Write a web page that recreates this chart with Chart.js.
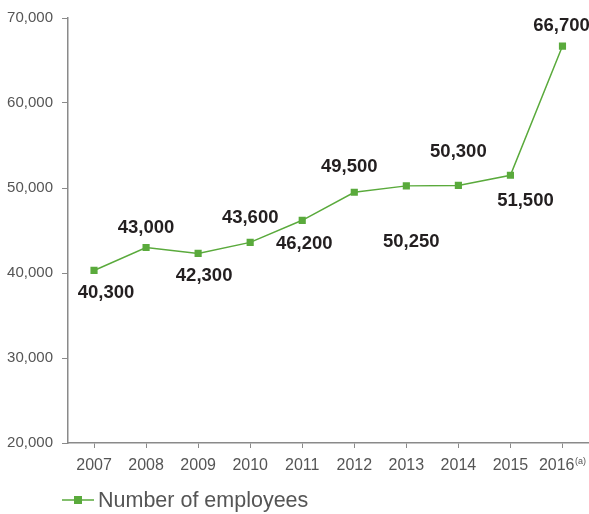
<!DOCTYPE html>
<html>
<head>
<meta charset="utf-8">
<script src="https://cdn.jsdelivr.net/npm/chart.js@4"></script>
<style>
html,body{margin:0;padding:0;background:#fff;overflow:hidden;}
#wrap{width:594px;height:514px;position:relative;}
</style>
</head>
<body>
<div id="wrap"><canvas id="c"></canvas></div>
<script>
const years = ['2007','2008','2009','2010','2011','2012','2013','2014','2015','2016'];
const employees = [40300, 43000, 42300, 43600, 46200, 49500, 50250, 50300, 51500, 66700];
const valueLabels = ['40,300','43,000','42,300','43,600','46,200','49,500','50,250','50,300','51,500','66,700'];
const yTicks = [20000, 30000, 40000, 50000, 60000, 70000];
const seriesName = 'Number of employees';
const footnotes = ['', '', '', '', '', '', '', '', '', '(a)'];
// label placement relative to each point (style only)
const labelDX = [12, 0, 6, 0, 2, -5, 5, 0, 15, -1];
const labelDY = [22, -20, 22, -24, 24, -25, 56, -34, 26, -20];

const GREEN = '#5aaa3c';
const AXIS = '#8a8a8a';
const TICKTXT = '#555555';
const FAMILY = '"Liberation Sans", Arial, sans-serif';
const LABEL_FONT = 'bold 18.5px ' + FAMILY;

const labelPlugin = {
  id: 'labels',
  afterDatasetsDraw(chart) {
    const ctx = chart.ctx;
    const meta = chart.getDatasetMeta(0);
    ctx.save();
    ctx.font = LABEL_FONT;
    ctx.fillStyle = '#231f20';
    ctx.textAlign = 'center';
    ctx.textBaseline = 'middle';
    meta.data.forEach((pt, i) => {
      ctx.fillText(valueLabels[i], pt.x + labelDX[i], pt.y + labelDY[i]);
    });
    // x tick labels (with footnote superscripts), centered as a whole
    const xs = chart.scales.x;
    const ty = xs.top + 23;
    ctx.textAlign = 'left';
    ctx.textBaseline = 'middle';
    ctx.fillStyle = TICKTXT;
    years.forEach((yr, i) => {
      const cx = xs.getPixelForValue(i);
      ctx.font = '16px ' + FAMILY;
      const w1 = ctx.measureText(yr).width;
      ctx.font = '9px ' + FAMILY;
      const w2 = footnotes[i] ? ctx.measureText(footnotes[i]).width + 0.5 : 0;
      const start = cx - (w1 + w2) / 2;
      ctx.font = '16px ' + FAMILY;
      ctx.fillText(yr, start, ty);
      if (footnotes[i]) {
        ctx.font = '9px ' + FAMILY;
        ctx.fillText(footnotes[i], start + w1 + 0.5, ty - 4);
      }
    });
    // legend
    const ly = 500;
    ctx.strokeStyle = GREEN;
    ctx.lineWidth = 1.5;
    ctx.beginPath();
    ctx.moveTo(62, ly);
    ctx.lineTo(94, ly);
    ctx.stroke();
    ctx.fillStyle = GREEN;
    ctx.fillRect(74, ly - 4, 8, 8);
    ctx.font = '21.5px ' + FAMILY;
    ctx.fillStyle = TICKTXT;
    ctx.textAlign = 'left';
    ctx.textBaseline = 'middle';
    ctx.fillText(seriesName, 98, ly + 1);
    ctx.restore();
  }
};

new Chart(document.getElementById('c'), {
  type: 'line',
  data: {
    labels: years,
    datasets: [{
      label: seriesName,
      data: employees,
      borderColor: GREEN,
      backgroundColor: GREEN,
      borderWidth: 1.5,
      pointStyle: 'rect',
      pointRadius: 4,
      pointHoverRadius: 4,
      tension: 0,
      fill: false
    }]
  },
  options: {
    responsive: true,
    maintainAspectRatio: false,
    animation: false,
    events: [],
    layout: { padding: { top: 8, right: 1, bottom: 40, left: 0 } },
    plugins: { legend: { display: false }, tooltip: { enabled: false } },
    scales: {
      x: {
        type: 'category',
        offset: true,
        grid: { display: true, drawOnChartArea: false, drawTicks: true, tickLength: 5, offset: false, color: AXIS, tickColor: AXIS },
        border: { display: true, color: AXIS, width: 1.5 },
        ticks: { display: false, autoSkip: false },
        afterFit(s) { s.height = 31; }
      },
      y: {
        min: 20000,
        max: 70000,
        afterBuildTicks(s) { s.ticks = yTicks.map(v => ({ value: v })); },
        grid: { display: true, drawOnChartArea: false, drawTicks: true, tickLength: 6, color: AXIS, tickColor: AXIS },
        border: { display: true, color: AXIS, width: 1.5 },
        ticks: { color: TICKTXT, font: { size: 15, family: FAMILY }, padding: 9,
          callback: v => v.toLocaleString('en-US') },
        afterFit(s) { s.width = 68; }
      }
    }
  },
  plugins: [labelPlugin]
});
</script>
</body>
</html>
